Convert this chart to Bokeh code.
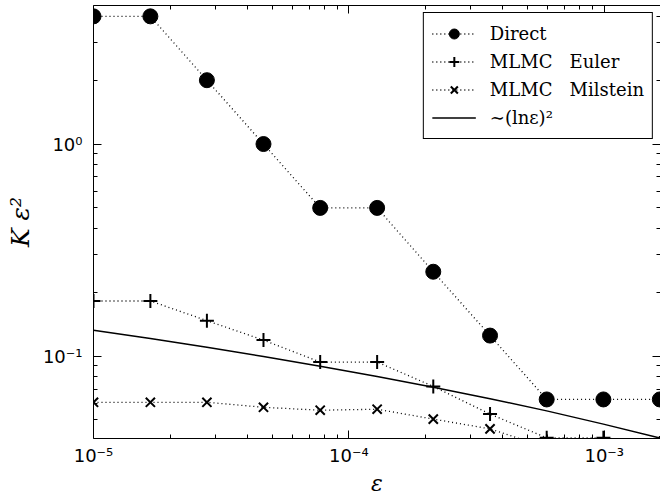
from bokeh.plotting import figure
from bokeh.models import (LogAxis, FixedTicker, CustomJSTickFormatter, Legend,
                          LegendItem, Range1d)
from bokeh.embed import file_html
from bokeh.resources import INLINE

# ---- data ----
eps = [1.0e-5, 1.67e-5, 2.78e-5, 4.63e-5, 7.72e-5, 1.29e-4, 2.14e-4,
       3.57e-4, 5.95e-4, 9.92e-4, 1.65e-3]
direct = [4.0, 4.0, 2.0, 1.0, 0.5, 0.5, 0.25, 0.125, 0.0625, 0.0625, 0.0625]
euler = [0.182, 0.182, 0.147, 0.119, 0.0938, 0.0938, 0.072, 0.0533,
         0.0412, 0.0412, 0.039]
milstein = [0.0606, 0.0606, 0.0606, 0.0574, 0.0556, 0.0562, 0.0505,
            0.0454, 0.037, 0.034, 0.031]
lnsq = [0.1326, 0.1210, 0.1101, 0.0996, 0.0897, 0.0802, 0.0714, 0.0630,
        0.0552, 0.0478, 0.0411]

x_major = [1e-5, 1e-4, 1e-3]
y_major = [1e-2, 1e-1, 1e0, 1e1]
x_minor = [m * 10.0 ** d for d in (-5, -4, -3) for m in range(2, 10)]
y_minor = [m * 10.0 ** d for d in (-2, -1, 0) for m in range(2, 10)]

p = figure(width=660, height=498, x_axis_type="log", y_axis_type="log",
           x_range=Range1d(1e-5, 1.66e-3), y_range=Range1d(0.0409, 4.5),
           output_backend="svg", toolbar_location=None,
           min_border_left=93, min_border_right=0, min_border_top=5,
           min_border_bottom=51)
p.grid.visible = False
p.outline_line_color = None
p.background_fill_color = "white"
p.border_fill_color = "white"

fmt_code = """
const e = Math.round(Math.log10(tick));
const sup = {'-':'\u207b','0':'\u2070','1':'\u00b9','2':'\u00b2','3':'\u00b3','4':'\u2074','5':'\u2075','6':'\u2076','7':'\u2077','8':'\u2078','9':'\u2079'};
return '10' + String(e).split('').map(c => sup[c]).join('');
"""

xt = FixedTicker(ticks=x_major, minor_ticks=x_minor)
yt = FixedTicker(ticks=y_major, minor_ticks=y_minor)


def style(ax):
    ax.major_tick_in = 8
    ax.major_tick_out = 0
    ax.minor_tick_in = 4
    ax.minor_tick_out = 0
    ax.axis_line_color = "black"
    ax.major_tick_line_color = "black"
    ax.minor_tick_line_color = "black"
    ax.major_label_text_font = "DejaVu Sans"
    ax.major_label_text_font_size = "18px"
    ax.major_label_text_color = "black"


for ax in (p.xaxis[0], p.yaxis[0]):
    style(ax)
p.xaxis.ticker = xt
p.yaxis.ticker = yt
p.xaxis.formatter = CustomJSTickFormatter(code=fmt_code)
p.yaxis.formatter = CustomJSTickFormatter(code=fmt_code)
p.xaxis.major_label_standoff = 6
p.yaxis.major_label_standoff = 11

p.xaxis.axis_label = "\u03b5"
p.yaxis.axis_label = "K \u03b5\u00b2"
for ax in (p.xaxis[0], p.yaxis[0]):
    ax.axis_label_text_font = "DejaVu Serif"
    ax.axis_label_text_font_style = "italic"
    ax.axis_label_text_color = "black"
p.xaxis.axis_label_text_font_size = "22px"
p.yaxis.axis_label_text_font_size = "25px"
p.xaxis.axis_label_standoff = 2
p.yaxis.axis_label_standoff = 5

blank = CustomJSTickFormatter(code="return '';")
top = LogAxis(ticker=xt, formatter=blank)
right = LogAxis(ticker=yt, formatter=blank)
for ax in (top, right):
    style(ax)
    ax.major_label_text_font_size = "2px"
    ax.major_label_standoff = 0
right.axis_line_color = None
p.add_layout(top, "above")
p.add_layout(right, "right")

dot = "1 3"
ld = p.line(eps, direct, line_color="black", line_dash=dot, line_width=1.3)
sd = p.scatter(eps, direct, marker="circle", size=15, fill_color="black",
               line_color="black")
le = p.line(eps, euler, line_color="black", line_dash=dot, line_width=1.3)
se = p.scatter(eps, euler, marker="cross", size=14, line_color="black",
               line_width=2)
lm = p.line(eps, milstein, line_color="black", line_dash=dot, line_width=1.3)
sm = p.scatter(eps, milstein, marker="x", size=13, line_color="black",
               line_width=2)
ll = p.line(eps, lnsq, line_color="black", line_width=1.5)

gap = "\u00a0" * 3
legend = Legend(items=[
    LegendItem(label="Direct", renderers=[ld, sd]),
    LegendItem(label="MLMC" + gap + "Euler", renderers=[le, se]),
    LegendItem(label="MLMC" + gap + "Milstein", renderers=[lm, sm]),
    LegendItem(label="\u223c(ln\u03b5)\u00b2", renderers=[ll]),
], location="top_right")
legend.margin = 7
legend.padding = 8
legend.spacing = 3
legend.glyph_width = 44
legend.glyph_height = 25
legend.label_height = 25
legend.label_standoff = 14
legend.label_text_font = "DejaVu Serif"
legend.label_text_font_size = "18px"
legend.label_text_color = "black"
legend.border_line_color = "black"
legend.border_line_width = 1
legend.border_line_alpha = 1
legend.background_fill_alpha = 1
p.add_layout(legend)

open("out.html", "w").write(file_html(p, INLINE))
